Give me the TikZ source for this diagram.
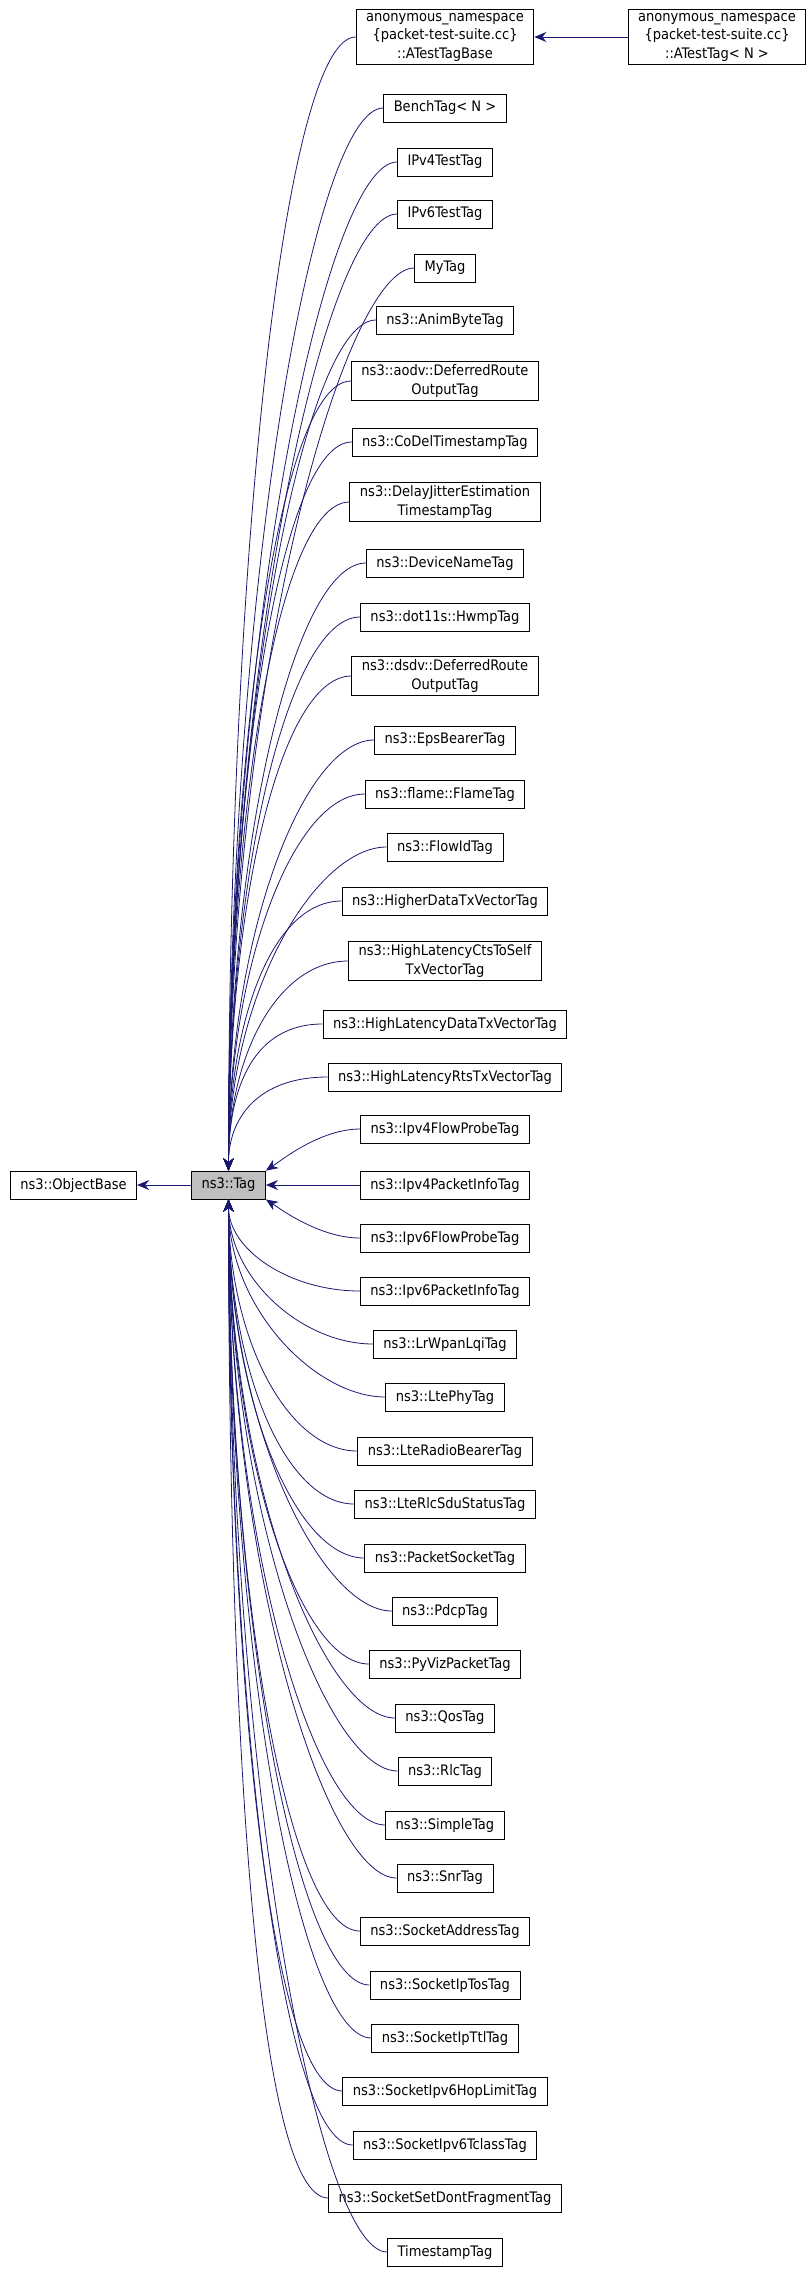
\documentclass[tikz,border=0pt]{standalone}
\usepackage{fontspec}
\setmainfont{DejaVu Sans Condensed}
\usetikzlibrary{arrows.meta}
\definecolor{edgec}{RGB}{25,25,112}
\tikzset{cls/.style={draw=black,line width=0.9pt,fill=white,inner xsep=10pt,inner ysep=3pt,minimum height=28pt,align=center,font=\fontsize{14.5pt}{18.5pt}\selectfont},
edge/.style={draw=edgec,line width=0.8pt,-{Stealth[length=12pt,width=10pt]}}}
\newcommand{\cls}[3]{\node[cls] (#1) at (445pt,-#2pt) {#3};}
\begin{document}
\begin{tikzpicture}
\useasboundingbox (0,0) rectangle (811pt,-2272pt);
\node[cls,fill=gray!50] (tag) at (228.5pt,-1185pt) {ns3::Tag};
\node[cls] (ob) at (73.5pt,-1185pt) {ns3::ObjectBase};
\node[cls] (atag) at (717pt,-37pt) {anonymous\_namespace\\\{packet-test-suite.cc\}\\::ATestTag< N >};
\cls{a1}{37}{anonymous\_namespace\\\{packet-test-suite.cc\}\\::ATestTagBase}
\cls{a2}{108}{BenchTag< N >}
\cls{a3}{162}{IPv4TestTag}
\cls{a4}{214}{IPv6TestTag}
\cls{a5}{268}{MyTag}
\cls{a6}{320}{ns3::AnimByteTag}
\cls{a7}{381}{ns3::aodv::DeferredRoute\\OutputTag}
\cls{a8}{442}{ns3::CoDelTimestampTag}
\cls{a9}{502}{ns3::DelayJitterEstimation\\TimestampTag}
\cls{a10}{563}{ns3::DeviceNameTag}
\cls{a11}{617}{ns3::dot11s::HwmpTag}
\cls{a12}{676}{ns3::dsdv::DeferredRoute\\OutputTag}
\cls{a13}{740}{ns3::EpsBearerTag}
\cls{a14}{794}{ns3::flame::FlameTag}
\cls{a15}{847}{ns3::FlowIdTag}
\cls{a16}{901}{ns3::HigherDataTxVectorTag}
\cls{a17}{961}{ns3::HighLatencyCtsToSelf\\TxVectorTag}
\cls{a18}{1024}{ns3::HighLatencyDataTxVectorTag}
\cls{a19}{1077}{ns3::HighLatencyRtsTxVectorTag}
\cls{a20}{1129}{ns3::Ipv4FlowProbeTag}
\cls{m1}{1185}{ns3::Ipv4PacketInfoTag}
\cls{b1}{1238}{ns3::Ipv6FlowProbeTag}
\cls{b2}{1291}{ns3::Ipv6PacketInfoTag}
\cls{b3}{1344}{ns3::LrWpanLqiTag}
\cls{b4}{1397}{ns3::LtePhyTag}
\cls{b5}{1451}{ns3::LteRadioBearerTag}
\cls{b6}{1504}{ns3::LteRlcSduStatusTag}
\cls{b7}{1558}{ns3::PacketSocketTag}
\cls{b8}{1611}{ns3::PdcpTag}
\cls{b9}{1664}{ns3::PyVizPacketTag}
\cls{b10}{1718}{ns3::QosTag}
\cls{b11}{1771}{ns3::RlcTag}
\cls{b12}{1825}{ns3::SimpleTag}
\cls{b13}{1878}{ns3::SnrTag}
\cls{b14}{1931}{ns3::SocketAddressTag}
\cls{b15}{1985}{ns3::SocketIpTosTag}
\cls{b16}{2038}{ns3::SocketIpTtlTag}
\cls{b17}{2091}{ns3::SocketIpv6HopLimitTag}
\cls{b18}{2145}{ns3::SocketIpv6TclassTag}
\cls{b19}{2198}{ns3::SocketSetDontFragmentTag}
\cls{b20}{2252}{TimestampTag}
\draw[edge] (atag) -- (a1);
\draw[edge] (tag) -- (ob);
\draw[edge] (m1) -- (tag);
\draw[edge] (a20.west) .. controls +(-40pt,0) and ([shift={(15pt,10pt)}]tag.north east) .. (tag.north east);
\draw[edge] (b1.west) .. controls +(-40pt,0) and ([shift={(15pt,-10pt)}]tag.south east) .. (tag.south east);
\foreach \nn/\yy in {a1/37,a2/108,a3/162,a4/214,a5/268,a6/320,a7/381,a8/442,a9/502,a10/563,a11/617,a12/676,a13/740,a14/794,a15/847,a16/901,a17/961,a18/1024,a19/1077}{
  \pgfmathsetmacro\dd{0.55*(1172-\yy)}
  \pgfmathsetmacro\oo{min(70,0.9*(1172-\yy))}
  \draw[edge] (\nn.west) .. controls +(-\oo pt,0) and ([yshift=\dd pt]tag.north) .. (tag.north);
}
\foreach \nn/\yy in {b2/1291,b3/1344,b4/1397,b5/1451,b6/1504,b7/1558,b8/1611,b9/1664,b10/1718,b11/1771,b12/1825,b13/1878,b14/1931,b15/1985,b16/2038,b17/2091,b18/2145,b19/2198,b20/2252}{
  \pgfmathsetmacro\dd{0.55*(\yy-1199)}
  \pgfmathsetmacro\oo{min(70,0.9*(\yy-1199))}
  \draw[edge] (\nn.west) .. controls +(-\oo pt,0) and ([yshift=-\dd pt]tag.south) .. (tag.south);
}
\end{tikzpicture}
\end{document}
